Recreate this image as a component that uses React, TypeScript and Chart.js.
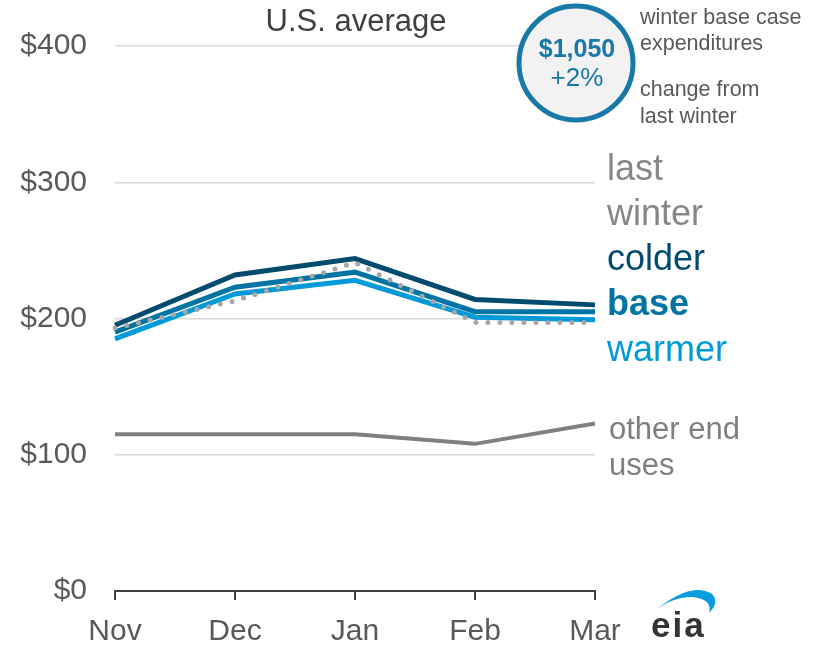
import React, { useEffect, useRef } from "react";
import { Chart, registerables } from "chart.js";

Chart.register(...registerables);

const months = ["Nov", "Dec", "Jan", "Feb", "Mar"];
const lastWinter = [193, 213, 241, 197, 197];
const colder = [195, 232, 244, 214, 210];
const base = [190, 223, 234, 205, 205];
const warmer = [185, 218, 228, 201, 199];
const otherEndUses = [115, 115, 115, 108, 123];
const yTicks = [0, 100, 200, 300, 400];

const FONT = "'Liberation Sans', Arial, sans-serif";

const overlay = {
  id: "overlay",
  afterDraw(chart: any) {
    const ctx = chart.ctx as CanvasRenderingContext2D;
    ctx.save();
    // title
    ctx.fillStyle = "#404040";
    ctx.font = `31px ${FONT}`;
    ctx.textAlign = "center";
    ctx.textBaseline = "middle";
    ctx.fillText("U.S. average", 356, 22);

    // circle
    ctx.beginPath();
    ctx.arc(576, 63, 57, 0, Math.PI * 2);
    ctx.fillStyle = "#f2f2f2";
    ctx.fill();
    ctx.lineWidth = 5;
    ctx.strokeStyle = "#1878a8";
    ctx.stroke();
    ctx.fillStyle = "#1878a8";
    ctx.font = `bold 25px ${FONT}`;
    ctx.fillText("$1,050", 577, 50);
    ctx.font = `26px ${FONT}`;
    ctx.fillText("+2%", 577, 79);

    ctx.textAlign = "left";
    ctx.fillStyle = "#595959";
    ctx.font = `21.5px ${FONT}`;
    ctx.fillText("winter base case", 640, 18);
    ctx.fillText("expenditures", 640, 44);
    ctx.fillText("change from", 640, 90);
    ctx.fillText("last winter", 640, 117);

    // series labels
    ctx.font = `36px ${FONT}`;
    ctx.fillStyle = "#878787";
    ctx.fillText("last", 607, 170);
    ctx.fillText("winter", 607, 215);
    ctx.fillStyle = "#004b6e";
    ctx.fillText("colder", 607, 260);
    ctx.fillStyle = "#0074a3";
    ctx.font = `bold 36px ${FONT}`;
    ctx.fillText("base", 607, 305);
    ctx.fillStyle = "#009ad9";
    ctx.font = `36px ${FONT}`;
    ctx.fillText("warmer", 607, 351);

    ctx.fillStyle = "#7f7f7f";
    ctx.font = `31px ${FONT}`;
    ctx.fillText("other end", 609, 430);
    ctx.fillText("uses", 609, 466);

    // eia logo
    ctx.beginPath();
    ctx.moveTo(651, 614);
    ctx.quadraticCurveTo(690, 580, 712, 594);
    ctx.quadraticCurveTo(720, 602, 709, 613);
    ctx.quadraticCurveTo(713, 599, 692, 597);
    ctx.quadraticCurveTo(670, 597, 651, 614);
    ctx.fillStyle = "#0a9ee0";
    ctx.fill();
    ctx.fillStyle = "#333333";
    ctx.font = `bold 35px ${FONT}`;
    ctx.textBaseline = "alphabetic";
    (ctx as any).letterSpacing = "2px";
    ctx.fillText("eia", 651, 637);
    ctx.restore();
  },
};

export default function App() {
  const ref = useRef<HTMLCanvasElement | null>(null);
  useEffect(() => {
    document.body.style.margin = "0";
    const chart = new Chart(ref.current!, {
      type: "line",
      data: {
        labels: months,
        datasets: [
          {
            label: "last winter",
            data: lastWinter,
            borderColor: "#a6a6a6",
            borderWidth: 5,
            borderDash: [0, 12],
            borderCapStyle: "round",
            pointRadius: 0,
            tension: 0,
          },
          {
            label: "other end uses",
            data: otherEndUses,
            borderColor: "#808080",
            borderWidth: 4,
            pointRadius: 0,
          },
          {
            label: "colder",
            data: colder,
            borderColor: "#004b6e",
            borderWidth: 5,
            pointRadius: 0,
          },
          {
            label: "base",
            data: base,
            borderColor: "#0074a3",
            borderWidth: 5,
            pointRadius: 0,
          },
          {
            label: "warmer",
            data: warmer,
            borderColor: "#009ad9",
            borderWidth: 5,
            pointRadius: 0,
          },
        ],
      } as any,
      options: {
        animation: false,
        responsive: false,
        layout: { padding: { top: 44, right: 225, left: 0, bottom: 0 } },
        plugins: { legend: { display: false }, tooltip: { enabled: false } },
        scales: {
          x: {
            offset: false,
            afterFit: (s: any) => {
              s.height = 56;
            },
            grid: {
              display: true,
              drawOnChartArea: false,
              drawTicks: true,
              tickLength: 9,
              color: "#404040",
              lineWidth: 2,
            },
            border: { display: true, color: "#404040", width: 2 },
            ticks: {
              color: "#595959",
              font: { family: FONT, size: 30 },
              padding: 14,
              maxRotation: 0,
            },
          },
          y: {
            min: 0,
            max: 400,
            afterFit: (s: any) => {
              s.width = 115;
            },
            afterBuildTicks: (s: any) => {
              s.ticks = yTicks.map((v) => ({ value: v }));
            },
            grid: {
              color: (c: any) => (c.tick && c.tick.value === 0 ? "rgba(0,0,0,0)" : "#d9d9d9"),
              lineWidth: 1.5,
              drawTicks: false,
            },
            border: { display: false },
            ticks: {
              color: "#595959",
              font: { family: FONT, size: 30 },
              padding: 28,
              callback: (v: any) => "$" + v,
            },
          },
        },
      },
      plugins: [overlay],
    });
    return () => chart.destroy();
  }, []);
  return (
    <div style={{ position: "absolute", left: 0, top: 0, width: 820, height: 647, background: "#fff" }}>
      <canvas ref={ref} width={820} height={647} />
    </div>
  );
}
